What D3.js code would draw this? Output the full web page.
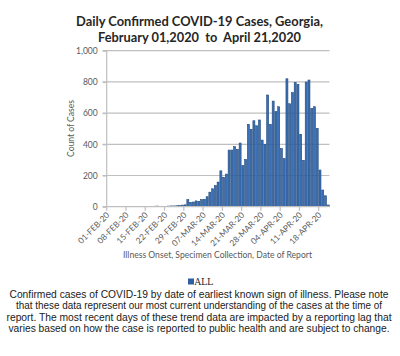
<!DOCTYPE html>
<html><head><meta charset="utf-8">
<script src="https://cdn.jsdelivr.net/npm/d3@7"></script>
<style>body{margin:0;background:#fff}svg{display:block}text{white-space:pre}</style>
</head><body>
<svg id="c" width="400" height="356"></svg>
<script>
const titleLines = ["Daily Confirmed COVID-19 Cases, Georgia,", "February 01,2020  to  April 21,2020"];
const yTicks = [0, 200, 400, 600, 800, 1000];
const yTitle = "Count of Cases";
const xTitle = "Illness Onset, Specimen Collection, Date of Report";
const seriesName = "ALL";
const months = ["JAN","FEB","MAR","APR"];
// daily confirmed cases, 01-FEB-20 .. 21-APR-20 (81 days)
const cases = [
  0,0,0,0,0,0,0,0,0,0,0,0,0,0,0,0,0,           // Feb 1-17
  3,4,2,0,2,4,5,5,6,8,10,12,                   // Feb 18-29
  45,28,30,37,34,45,47,64,93,115,135,158,230,188,209, // Mar 1-15
  363,363,385,367,408,263,303,528,496,551,519,556,427,400,716,528, // Mar 16-31
  677,609,641,372,308,820,660,731,797,784,464,297,799,812,630,641,502,235,107,70,11 // Apr 1-21
];
const footnote = [
  "Confirmed cases of COVID-19 by date of earliest known sign of illness. Please note",
  "that these data represent our most current understanding of the cases at the time of",
  "report. The most recent days of these trend data are impacted by a reporting lag that",
  "varies based on how the case is reported to public health and are subject to change."
];

const dates = cases.map((_, i) => new Date(2020, 1, 1 + i));
const fmt = d => String(d.getDate()).padStart(2, "0") + "-" + months[d.getMonth()] + "-20";

const svg = d3.select("#c");
const x = d3.scaleBand().domain(dates.map((d, i) => i)).range([106.7, 329.5]).paddingInner(0.28).paddingOuter(0.1);
const xStep = x.step();
const y = d3.scaleLinear().domain([0, 1000]).range([206.7, 50.7]);
const gray = "#bfbfbf", txt = "#595959";

function fitText(sel, w) {
  sel.each(function(){ const l = this.getComputedTextLength(); if (Math.abs(l - w) > 1) { d3.select(this).attr("textLength", w).attr("lengthAdjust", "spacingAndGlyphs"); } });
}

// title
svg.selectAll(".title").data(titleLines).join("text")
  .attr("x", 199.5).attr("y", (d, i) => 26 + i * 15.5)
  .attr("xml:space", "preserve")
  .attr("text-anchor", "middle").attr("font-family", "Lato, 'Open Sans', sans-serif")
  .attr("font-weight", "bold").attr("font-size", 13.5).attr("fill", "#262626")
  .text(d => d).call(s => s.each(function(d, i){ fitText(d3.select(this), i === 0 ? 247 : 203); }));

// gridlines
svg.append("g").selectAll("line").data(yTicks.filter(v => v > 0)).join("line")
  .attr("x1", 102.5).attr("x2", 329.5).attr("y1", d => y(d)).attr("y2", d => y(d))
  .attr("stroke", gray).attr("stroke-width", 1.2);

// y axis
const yAxis = d3.axisLeft(y).tickValues(yTicks).tickSize(4).tickPadding(5).tickFormat(d3.format(","));
const gy = svg.append("g").attr("transform", "translate(106.7,0)").call(yAxis);
gy.select(".domain").attr("stroke", gray).attr("stroke-width", 1.2).attr("d", "M0," + y(0) + "V" + y(1000));
gy.selectAll(".tick line").attr("stroke", gray).attr("stroke-width", 1.2);
gy.selectAll("text").attr("fill", txt).attr("font-size", 8.5).attr("font-family", "Lato, sans-serif");

// bars
svg.append("g").selectAll("rect").data(cases).join("rect")
  .attr("x", (d, i) => x(i)).attr("width", x.bandwidth())
  .attr("y", d => y(d)).attr("height", d => y(0) - y(d))
  .attr("fill", "#3b6fb6").attr("stroke", "#1f497d").attr("stroke-width", 0.6);

// x axis
const tickIdx = dates.map((d, i) => i).filter(i => i % 7 === 0);
const gx = svg.append("g");
gx.append("line").attr("x1", 102.5).attr("x2", 329.5).attr("y1", y(0)).attr("y2", y(0)).attr("stroke", gray).attr("stroke-width", 1.2);
gx.selectAll(".tk").data(tickIdx).join("line").attr("class", "tk")
  .attr("x1", i => x(i) - xStep * x.paddingOuter()).attr("x2", i => x(i) - xStep * x.paddingOuter())
  .attr("y1", y(0)).attr("y2", y(0) + 4).attr("stroke", gray).attr("stroke-width", 1.2);
gx.selectAll(".lb").data(tickIdx).join("text").attr("class", "lb")
  .attr("transform", i => "translate(" + (x(i) + 3) + "," + (y(0) + 9) + ") rotate(-45)")
  .attr("text-anchor", "end").attr("font-size", 8.3).attr("fill", txt).attr("font-family", "Lato, sans-serif")
  .text(i => fmt(dates[i]));

// axis titles
svg.append("text").attr("transform", "translate(73.5,128.5) rotate(-90)").attr("text-anchor", "middle")
  .attr("font-size", 9).attr("fill", txt).attr("font-family", "Lato, sans-serif").text(yTitle).call(fitText, 57);
svg.append("text").attr("x", 217.5).attr("y", 258).attr("text-anchor", "middle")
  .attr("font-size", 9).attr("fill", txt).attr("font-family", "Lato, sans-serif").text(xTitle).call(fitText, 189);

// legend
svg.append("rect").attr("x", 188).attr("y", 278.5).attr("width", 6).attr("height", 6).attr("fill", "#2f5f9e");
svg.append("text").attr("x", 194.5).attr("y", 285).attr("font-size", 9).attr("font-family", "'DejaVu Serif', 'Liberation Serif', serif")
  .attr("fill", "#222").text(seriesName).call(fitText, 18);

// footnote
svg.selectAll(".fn").data(footnote).join("text").attr("class", "fn")
  .attr("x", 199).attr("y", (d, i) => 298 + i * 11.4).attr("text-anchor", "middle")
  .attr("font-size", 10.3).attr("font-family", "'Liberation Sans', Arial, sans-serif").attr("fill", "#1a1a1a")
  .text(d => d).each(function(d, i){ fitText(d3.select(this), [379, 366, 385, 381][i]); });
</script>
</body></html>
